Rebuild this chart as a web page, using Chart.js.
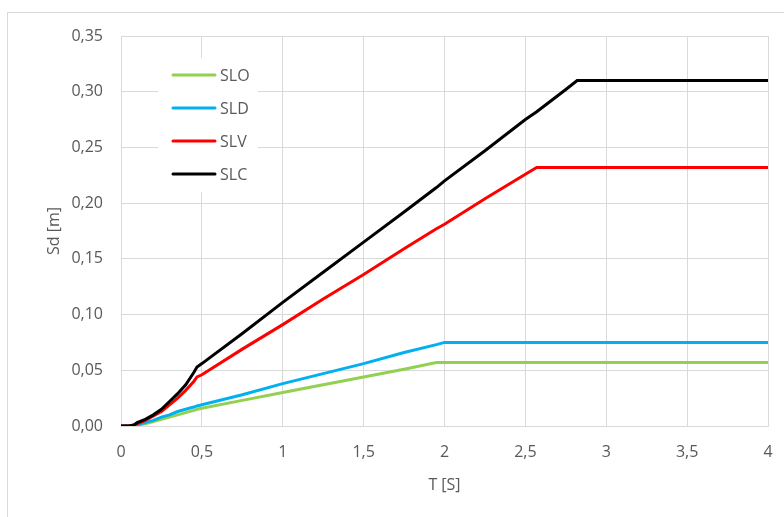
<!DOCTYPE html>
<html>
<head>
<meta charset="utf-8">
<script src="https://cdn.jsdelivr.net/npm/chart.js@4/dist/chart.umd.min.js"></script>
<style>
  html, body { margin: 0; padding: 0; background: #ffffff; }
  #wrap { width: 784px; height: 517px; position: relative; }
</style>
</head>
<body>
<div id="wrap"><canvas id="spectrumChart" width="784" height="517"></canvas></div>
<script>
// Period T [s] shared by all curves
const periods = [0, 0.05, 0.08, 0.1, 0.15, 0.2, 0.25, 0.3, 0.35, 0.4, 0.45, 0.47, 0.5, 0.75, 1, 1.25, 1.5, 1.75, 1.95, 2, 2.25, 2.5, 2.57, 2.75, 2.82, 3, 3.5, 4];

// Displacement Sd [m] per limit state
const slo = [0, 0, 0, 0.001, 0.002, 0.004, 0.006, 0.008, 0.010, 0.012, 0.014, 0.015, 0.016, 0.023, 0.030, 0.037, 0.044, 0.051, 0.057, 0.057, 0.057, 0.057, 0.057, 0.057, 0.057, 0.057, 0.057, 0.057];
const sld = [0, 0, 0, 0.001, 0.003, 0.005, 0.008, 0.010, 0.013, 0.015, 0.017, 0.018, 0.019, 0.028, 0.038, 0.047, 0.056, 0.066, 0.073, 0.075, 0.075, 0.075, 0.075, 0.075, 0.075, 0.075, 0.075, 0.075];
const slv = [0, 0, 0.001, 0.002, 0.005, 0.009, 0.013, 0.019, 0.025, 0.032, 0.040, 0.044, 0.046, 0.069, 0.091, 0.114, 0.136, 0.159, 0.177, 0.181, 0.204, 0.226, 0.232, 0.232, 0.232, 0.232, 0.232, 0.232];
const slc = [0, 0, 0.001, 0.003, 0.006, 0.010, 0.015, 0.022, 0.029, 0.037, 0.048, 0.053, 0.056, 0.083, 0.111, 0.138, 0.165, 0.192, 0.214, 0.220, 0.247, 0.275, 0.282, 0.302, 0.310, 0.310, 0.310, 0.310];

const seriesNames = ['SLO', 'SLD', 'SLV', 'SLC'];
const seriesColors = ['#92D050', '#00B0F0', '#FF0000', '#000000'];
const seriesValues = [slo, sld, slv, slc];

const textColor = '#595959';
const gridColor = '#d9d9d9';
const fontFamily = '"Open Sans", sans-serif';

function toPoints(values) {
    return periods.map((t, i) => ({ x: t, y: values[i] }));
}

// outer frame around the whole chart object
const framePlugin = {
    id: 'frame',
    beforeDraw(chart) {
        const ctx = chart.ctx;
        ctx.save();
        ctx.fillStyle = '#ffffff';
        ctx.fillRect(0, 0, chart.width, chart.height);
        ctx.strokeStyle = gridColor;
        ctx.lineWidth = 1;
        ctx.strokeRect(7.5, 12.5, chart.width + 10, chart.height + 10);
        ctx.restore();
    }
};

// legend box sitting inside the plot, top left
const insideLegend = {
    id: 'insideLegend',
    afterDraw(chart) {
        const ctx = chart.ctx;
        ctx.save();
        ctx.fillStyle = '#ffffff';
        ctx.fillRect(158, 58, 100, 134);
        ctx.font = '16px ' + fontFamily;
        ctx.textBaseline = 'middle';
        ctx.textAlign = 'left';
        chart.data.datasets.forEach((ds, i) => {
            const y = 75 + i * 33;
            ctx.strokeStyle = ds.borderColor;
            ctx.lineWidth = 3;
            ctx.lineCap = 'round';
            ctx.beginPath();
            ctx.moveTo(173, y);
            ctx.lineTo(215, y);
            ctx.stroke();
            ctx.fillStyle = textColor;
            ctx.fillText(ds.label, 220, y + 1);
        });
        ctx.restore();
    }
};

const ctx = document.getElementById('spectrumChart').getContext('2d');
new Chart(ctx, {
    type: 'line',
    data: {
        datasets: seriesNames.map((name, i) => ({
            label: name,
            data: toPoints(seriesValues[i]),
            borderColor: seriesColors[i],
            backgroundColor: seriesColors[i],
            borderWidth: 3,
            pointRadius: 0,
            tension: 0,
            fill: false,
            order: 4 - i
        }))
    },
    options: {
        responsive: false,
        animation: false,
        layout: {
            padding: { left: 40, right: 16, top: 36, bottom: 10 }
        },
        plugins: {
            legend: { display: false },
            tooltip: { enabled: false }
        },
        scales: {
            x: {
                type: 'linear',
                min: 0,
                max: 4,
                afterFit: scale => {
                    scale.height = 81;
                    scale.paddingLeft = 0;
                    scale.paddingRight = 0;
                },
                ticks: {
                    stepSize: 0.5,
                    color: textColor,
                    padding: 17,
                    maxRotation: 0,
                    font: { family: fontFamily, size: 16 },
                    callback: v => String(v).replace('.', ',')
                },
                grid: { color: gridColor, drawTicks: false },
                border: { color: gridColor },
                title: {
                    display: true,
                    text: 'T [S]',
                    color: textColor,
                    font: { family: fontFamily, size: 16 },
                    padding: { top: 0, bottom: 12 }
                }
            },
            y: {
                type: 'linear',
                min: 0,
                max: 0.35,
                afterFit: scale => {
                    scale.width = 81;
                    scale.paddingTop = 0;
                    scale.paddingBottom = 0;
                },
                ticks: {
                    stepSize: 0.05,
                    color: textColor,
                    padding: 18,
                    font: { family: fontFamily, size: 16 },
                    callback: v => v.toFixed(2).replace('.', ',')
                },
                grid: { color: gridColor, drawTicks: false },
                border: { color: gridColor },
                title: {
                    display: true,
                    text: 'Sd [m]',
                    color: textColor,
                    font: { family: fontFamily, size: 16 },
                    padding: { top: 5, bottom: 0 }
                }
            }
        }
    },
    plugins: [framePlugin, insideLegend]
});
</script>
</body>
</html>
